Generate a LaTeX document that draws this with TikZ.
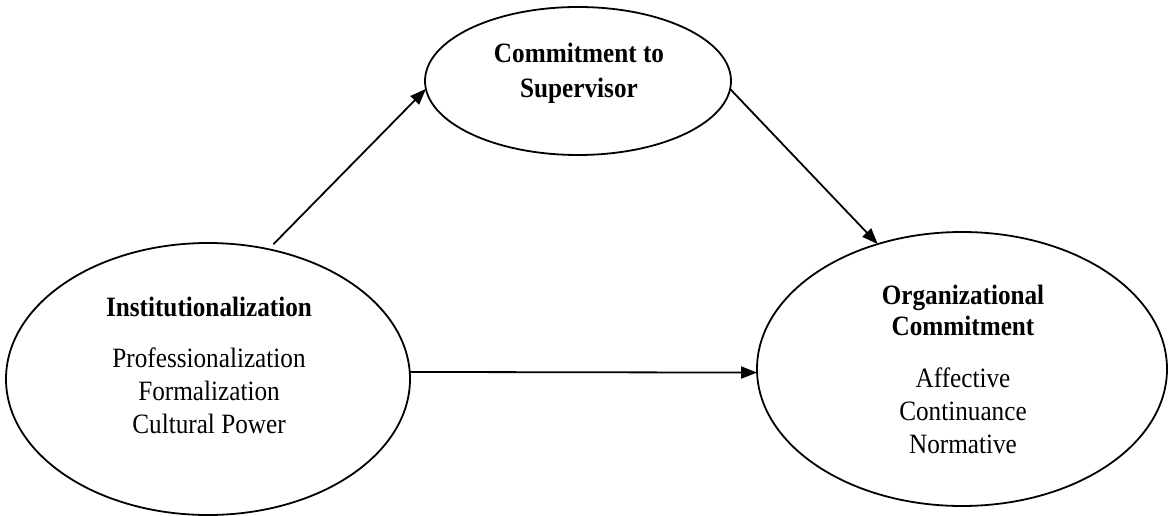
\documentclass[tikz,border=0pt]{standalone}
\usepackage{fontspec}
\setmainfont[FakeStretch=0.9]{Liberation Serif}
\usetikzlibrary{arrows.meta,shapes.geometric}
\begin{document}
\begin{tikzpicture}[x=1pt,y=-1pt,
  construct/.style={draw=black,line width=1.8pt,ellipse,inner sep=0pt,outer sep=0pt},
  head/.style={font=\fontsize{28}{33}\selectfont\bfseries,anchor=base,inner sep=0pt},
  item/.style={font=\fontsize{28}{33}\selectfont,anchor=base,inner sep=0pt},
  path/.style={draw=black,line width=1.8pt,-{Triangle[length=16pt,width=12pt]}}]
\useasboundingbox (0,0) rectangle (1170,516);
\fill[white] (0,0) rectangle (1170,516);

% constructs
\node[construct,minimum width=404pt,minimum height=272pt] (inst) at (208,379) {};
\node[construct,minimum width=306pt,minimum height=148pt] (sup) at (578,81) {};
\node[construct,minimum width=410pt,minimum height=274pt] (org) at (962,369) {};

% labels of the independent construct
\node[head] (instH) at (209,316) {Institutionalization};
\node[item] (instA) at (209,367) {Professionalization};
\node[item] (instB) at (209,400) {Formalization};
\node[item] (instC) at (209,433) {Cultural Power};

% labels of the mediator
\node[head] (supA) at (579,63) {Commitment to};
\node[head] (supB) at (579,98) {Supervisor};

% labels of the outcome
\node[head] (orgH1) at (963,304) {Organizational};
\node[head] (orgH2) at (963,335) {Commitment};
\node[item] (orgA) at (963,387) {Affective};
\node[item] (orgB) at (963,420) {Continuance};
\node[item] (orgC) at (963,453) {Normative};

% paths
\draw[path,shorten <=7pt] (inst.65) -- (sup.183);
\draw[path] (sup.-3) -- (org.124);
\draw[path] (inst.2) -- (org.181);
\end{tikzpicture}
\end{document}
